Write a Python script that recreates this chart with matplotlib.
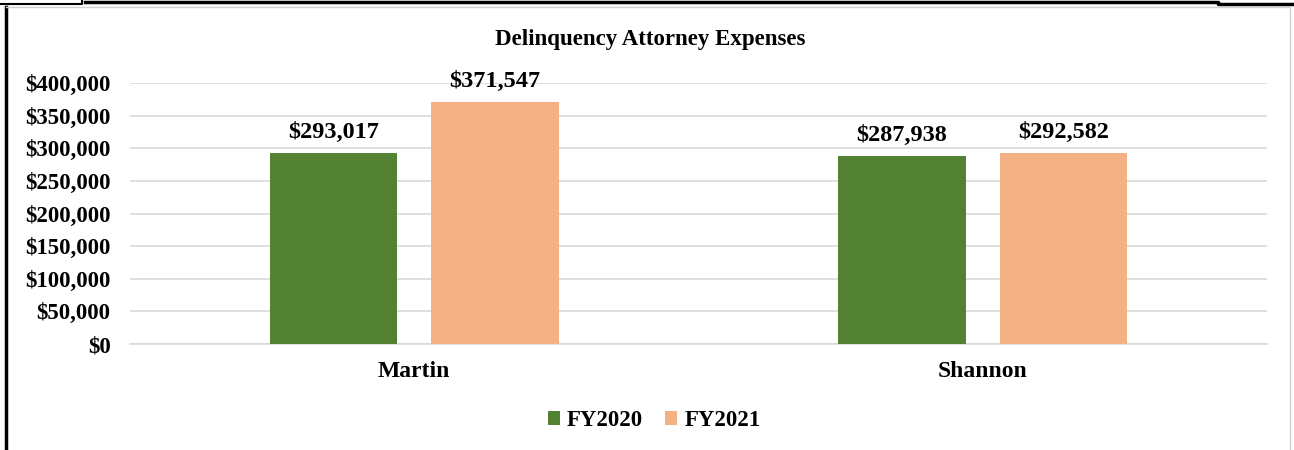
import numpy as np
import matplotlib
matplotlib.use("Agg")
import matplotlib.pyplot as plt
from matplotlib.lines import Line2D
from matplotlib.ticker import FuncFormatter, MultipleLocator

categories = ["Martin", "Shannon"]
series_names = ["FY2020", "FY2021"]
fy2020 = [293017, 287938]
fy2021 = [371547, 292582]
colors = ["#548235", "#F4B183"]

plt.rcParams['font.family'] = ['Liberation Serif', 'DejaVu Serif']
plt.rcParams['font.weight'] = 'bold'

W, H = 1294, 450
fig = plt.figure(figsize=(W / 100, H / 100), dpi=100)
ax = fig.add_axes([130 / W, 1 - 344 / H, (1267 - 130) / W, (344 - 83) / H])

x = np.arange(len(categories))
bw = 0.225
off = 0.142
for vals, name, c, dx in zip([fy2020, fy2021], series_names, colors, [-off, off]):
    bars = ax.bar(x + dx, vals, width=bw, color=c, label=name, zorder=3)
    for b, v in zip(bars, vals):
        ax.annotate(f"${v:,.0f}", (b.get_x() + b.get_width() / 2, v),
                    xytext=(0, 7), textcoords="offset points",
                    ha="center", va="bottom", fontsize=17.5, fontweight="bold")

ax.set_xlim(-0.5, 1.5)
ax.set_ylim(0, 400000)
ax.yaxis.set_major_locator(MultipleLocator(50000))
ax.yaxis.set_major_formatter(FuncFormatter(lambda v, p: f"${v:,.0f}"))
ax.grid(axis="y", color="#d9d9d9", linewidth=1.2, zorder=0)
ax.set_xticks(x)
ax.set_xticklabels(categories, fontsize=17, fontweight="bold")
ax.tick_params(axis="both", length=0)
ax.tick_params(axis="y", labelsize=16.5, pad=14)
ax.tick_params(axis="x", pad=12)
for lbl in ax.get_yticklabels():
    lbl.set_fontweight("bold")
for s in ["top", "right", "left"]:
    ax.spines[s].set_visible(False)
ax.spines["bottom"].set_color("#d9d9d9")
ax.spines["bottom"].set_linewidth(1.2)

fig.text(650 / W, 1 - 40 / H, "Delinquency Attorney Expenses", ha="center", va="center",
         fontsize=16.5, fontweight="bold")

fig.legend(loc="center", bbox_to_anchor=(654 / W, 1 - 421 / H), ncol=2, frameon=False,
           prop={"size": 16.5, "weight": "bold"}, handlelength=0.55, handleheight=0.55,
           handletextpad=0.3, columnspacing=0.95)

# surrounding frame lines from the source page
def px_line(xs, ys, **kw):
    fig.add_artist(Line2D([v / W for v in xs], [1 - v / H for v in ys], **kw))

px_line([0, 82, 82], [4, 4, 0], color="black", linewidth=1.5)
px_line([85, 1218, 1218, 1294], [1.5, 1.5, 4, 4], color="black", linewidth=2.5)
px_line([6, 6], [7, 450], color="black", linewidth=2.5)
px_line([6, 1290, 1290], [7, 7, 450], color="#d0d0d0", linewidth=1)

fig.savefig("out.png", dpi=100)
